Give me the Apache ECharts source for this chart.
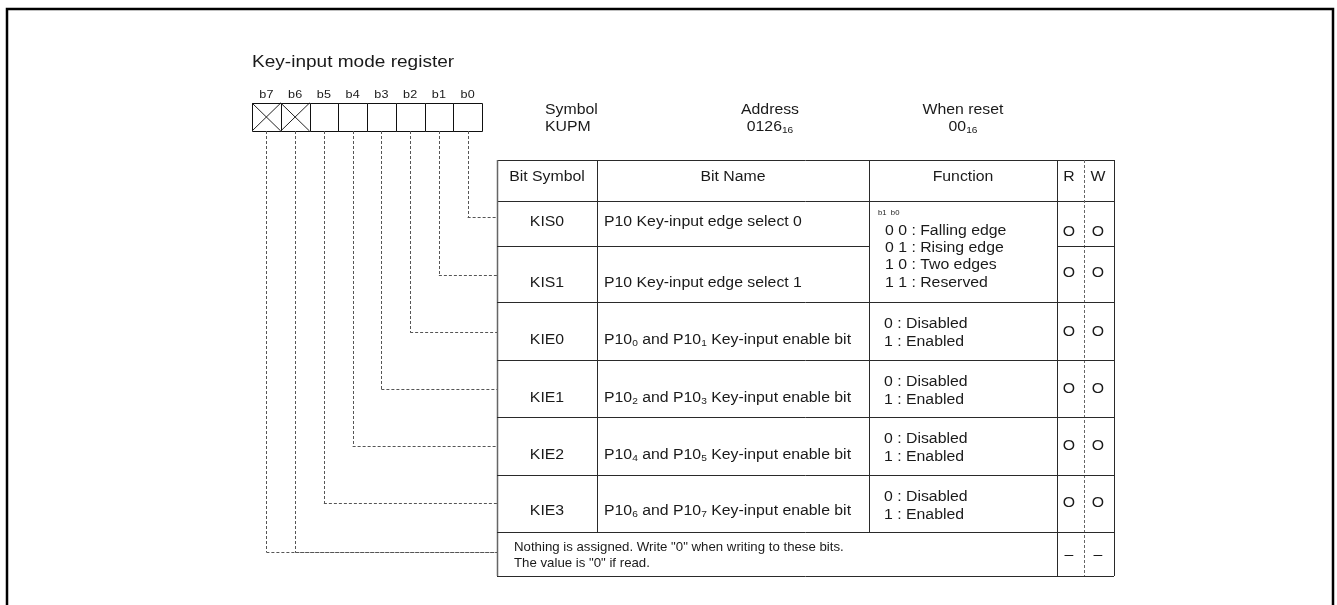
<!DOCTYPE html>
<html><head><meta charset="utf-8">
<script src="https://cdn.jsdelivr.net/npm/echarts@6/dist/echarts.min.js"></script>
<style>html,body{margin:0;padding:0;background:#fff}#chart{width:1337px;height:605px}</style>
</head><body><div id="chart"></div>
<script>
// ---------- content ----------
const title = 'Key-input mode register';
const bitLabels = ['b7','b6','b5','b4','b3','b2','b1','b0'];
const bitReserved = [true,true,false,false,false,false,false,false];
const infoHeads = ['Symbol','Address','When reset'];
const infoValues = ['KUPM','0126{s|16}','00{s|16}'];
const headers = ['Bit Symbol','Bit Name','Function','R','W'];
const bitSymbols = ['KIS0','KIS1','KIE0','KIE1','KIE2','KIE3'];
const bitNames = [
  'P10 Key-input edge select 0',
  'P10 Key-input edge select 1',
  'P10{s|0} and P10{s|1} Key-input enable bit',
  'P10{s|2} and P10{s|3} Key-input enable bit',
  'P10{s|4} and P10{s|5} Key-input enable bit',
  'P10{s|6} and P10{s|7} Key-input enable bit'
];
const rowBits = ['b0','b1','b2','b3','b4','b5'];
const edgeFuncHead = 'b1  b0';
const edgeFunctions = ['0 0 : Falling edge','0 1 : Rising edge','1 0 : Two edges','1 1 : Reserved'];
const enableFunctions = ['0 : Disabled','1 : Enabled'];
const readCol = ['O','O','O','O','O','O'];
const writeCol = ['O','O','O','O','O','O'];
const reservedNote = ['Nothing is assigned. Write "0" when writing to these bits.','The value is "0" if read.'];
const reservedRW = ['\u2013','\u2013'];

// ---------- layout (pixel space of the hidden axes) ----------
const L = {
  frame:[7,9,1333,640],
  titleX:252, titleY:62,
  boxLeft:252, boxW:28.75, boxTop:103, boxBottom:131, bitLabelY:95,
  infoX:[545,770,963], infoAlign:['left','center','center'], infoY1:110, infoY2:127,
  cols:[497,597,869,1057,1084,1114],
  rows:[160,201,246,302,360,417,475,532,576],
  headerY:177,
  textY:[222,283,340,398,455,511],
  nameX:604,
  funcX:884, edgeX:885, edgeHeadX:878, edgeHeadY:213, edgeY0:231, edgeDy:17.3,
  enableDy:[22,40.5],
  rwX:[1069,1098], rwY:[232,273,332,389,446,503],
  connY:[217,275,332,389,446,503], reservedConnY:552,
  noteX:514, noteY:[547,563], reservedRWY:555
};
const FONT = '"Liberation Sans", Arial, sans-serif';
const TXT = '#1a1a1a';
const LINE = '#2a2a2a';
const DASH = '#555';
const SX = 1.13;
const SUB = {s:{fontSize:9, fontFamily:FONT, fill:TXT, verticalAlign:'bottom', padding:[7,0,0,0]}};

function P(api,x,y){ return api.coord([x,y]); }
function line(api,x1,y1,x2,y2,opt){
  const a=P(api,x1,y1), b=P(api,x2,y2);
  const crisp = v => Math.round(v)+0.5;
  const s = {x1:a[0],y1:a[1],x2:b[0],y2:b[1]};
  if (a[0]===b[0]) { s.x1=s.x2=crisp(a[0]); }
  if (a[1]===b[1]) { s.y1=s.y2=crisp(a[1]); }
  opt = opt||{};
  return {type:'line', shape:s, style:{stroke:opt.stroke||LINE, lineWidth:opt.lw||1, lineDash:opt.dash||null}};
}
function text(api,x,y,str,opt){
  opt=opt||{};
  const p=P(api,x,y);
  return {type:'text', x:p[0], y:p[1], scaleX:(opt.sx==null?SX:opt.sx),
    style:{text:str, x:0, y:0, fontSize:opt.size||14, fontFamily:FONT,
    fill:opt.fill||TXT, align:opt.align||'left', verticalAlign:opt.va||'middle', rich:SUB}};
}

// frame, title and header info
function renderFrame(params, api){
  const a=P(api,L.frame[0],L.frame[1]), b=P(api,L.frame[2],L.frame[3]);
  const ch=[{type:'rect', shape:{x:a[0],y:a[1],width:b[0]-a[0],height:b[1]-a[1]},
    style:{fill:null, stroke:'#000', lineWidth:2.5}}];
  ch.push(text(api,L.titleX,L.titleY,title,{size:17,sx:1.12}));
  infoHeads.forEach((h,i)=>{
    ch.push(text(api,L.infoX[i],L.infoY1,h,{align:L.infoAlign[i]}));
    ch.push(text(api,L.infoX[i],L.infoY2,infoValues[i],{align:L.infoAlign[i]}));
  });
  return {type:'group', children:ch};
}

// register bit boxes and their connectors
function renderBit(params, api){
  const i=api.value(0);
  const x0=L.boxLeft+i*L.boxW, x1=x0+L.boxW, cx=(x0+x1)/2;
  const a=P(api,x0,L.boxTop), b=P(api,x1,L.boxBottom);
  const ch=[{type:'rect', shape:{x:Math.round(a[0])+0.5,y:Math.round(a[1])+0.5,width:Math.round(b[0]-a[0]),height:Math.round(b[1]-a[1])},
    style:{fill:'#fff', stroke:'#111', lineWidth:1}}];
  ch.push(text(api,cx,L.bitLabelY,bitLabels[i],{size:10.5,sx:1.2,align:'center'}));
  if (bitReserved[i]) {
    ch.push(line(api,x0,L.boxTop,x1,L.boxBottom,{stroke:'#222'}));
    ch.push(line(api,x0,L.boxBottom,x1,L.boxTop,{stroke:'#222'}));
  }
  const r=rowBits.indexOf(bitLabels[i]);
  const y = r>=0 ? L.connY[r] : L.reservedConnY;
  ch.push(line(api,cx,L.boxBottom,cx,y,{stroke:DASH,dash:[3,2]}));
  ch.push(line(api,cx,y,L.cols[0],y,{stroke:DASH,dash:[3,2]}));
  return {type:'group', children:ch};
}

// table header, outer lines, merged cells
function renderHeader(params, api){
  const c=L.cols, r=L.rows;
  const ch=[];
  const top=r[0], bot=r[r.length-1];
  ch.push(line(api,c[0],top,c[5],top));
  ch.push(line(api,c[0],r[1],c[5],r[1]));
  ch.push(line(api,c[0],bot,c[5],bot));
  ch.push(line(api,c[0],top,c[0],bot,{stroke:'#666',lw:1.5}));
  ch.push(line(api,c[5],top,c[5],bot));
  ch.push(line(api,c[1],top,c[1],r[r.length-2]));
  ch.push(line(api,c[2],top,c[2],r[r.length-2]));
  ch.push(line(api,c[3],top,c[3],bot));
  ch.push(line(api,c[4],top,c[4],bot,{stroke:'#666',dash:[3,2]}));
  ch.push(text(api,(c[0]+c[1])/2,L.headerY,headers[0],{align:'center'}));
  ch.push(text(api,(c[1]+c[2])/2,L.headerY,headers[1],{align:'center'}));
  ch.push(text(api,(c[2]+c[3])/2,L.headerY,headers[2],{align:'center'}));
  ch.push(text(api,L.rwX[0],L.headerY,headers[3],{align:'center'}));
  ch.push(text(api,L.rwX[1],L.headerY,headers[4],{align:'center'}));
  // edge select function (spans KIS0 and KIS1)
  ch.push(text(api,L.edgeHeadX,L.edgeHeadY,edgeFuncHead,{size:7,sx:1.1}));
  edgeFunctions.forEach((f,k)=>ch.push(text(api,L.edgeX,L.edgeY0+k*L.edgeDy,f)));
  // reserved row
  reservedNote.forEach((t,k)=>ch.push(text(api,L.noteX,L.noteY[k],t,{size:13.5,sx:0.98})));
  reservedRW.forEach((t,k)=>ch.push(text(api,L.rwX[k],L.reservedRWY,t,{align:'center'})));
  return {type:'group', children:ch};
}

// one table row per bit symbol
function renderRow(params, api){
  const i=api.value(0);
  const c=L.cols, r=L.rows;
  const yt=r[i+1], yb=r[i+2];
  const ch=[];
  const isEdge = i<2;
  if (i===0) {
    ch.push(line(api,c[0],yb,c[2],yb));
    ch.push(line(api,c[3],yb,c[5],yb));
  } else {
    ch.push(line(api,c[0],yb,c[5],yb));
  }
  ch.push(text(api,(c[0]+c[1])/2,L.textY[i],bitSymbols[i],{align:'center'}));
  ch.push(text(api,L.nameX,L.textY[i],bitNames[i]));
  if (!isEdge) {
    enableFunctions.forEach((f,k)=>ch.push(text(api,L.funcX,yt+L.enableDy[k],f)));
  }
  ch.push(text(api,L.rwX[0],L.rwY[i],readCol[i],{align:'center'}));
  ch.push(text(api,L.rwX[1],L.rwY[i],writeCol[i],{align:'center'}));
  return {type:'group', children:ch};
}

const chart = echarts.init(document.getElementById('chart'), null, {renderer:'canvas'});
chart.setOption({
  animation:false,
  backgroundColor:'#fff',
  grid:{left:0,right:0,top:0,bottom:0},
  xAxis:{type:'value',min:0,max:1337,show:false},
  yAxis:{type:'value',min:0,max:605,inverse:true,show:false},
  series:[
    {type:'custom', silent:true, clip:false, renderItem:renderFrame, data:[[0]]},
    {type:'custom', silent:true, clip:false, renderItem:renderHeader, data:[[0]]},
    {type:'custom', silent:true, clip:false, renderItem:renderRow, data:bitSymbols.map((s,i)=>[i])},
    {type:'custom', silent:true, clip:false, renderItem:renderBit, data:bitLabels.map((s,i)=>[i])}
  ]
});
</script></body></html>
